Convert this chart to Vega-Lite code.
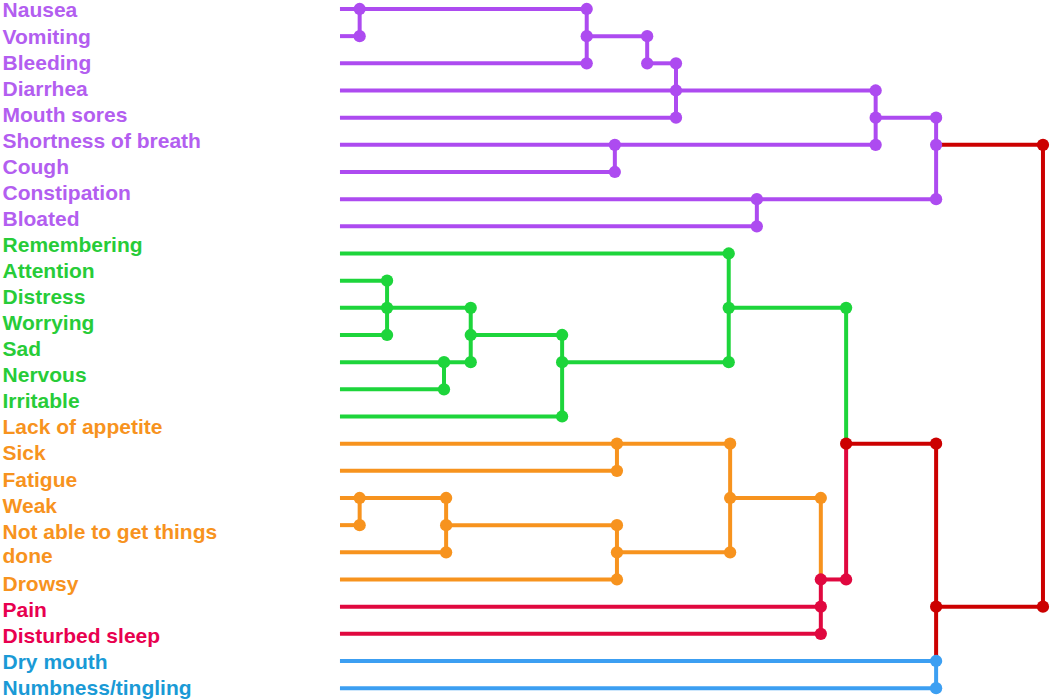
{
  "$schema": "https://vega.github.io/schema/vega-lite/v6.json",
  "width": 1050,
  "height": 699,
  "autosize": {"type": "fit", "contains": "padding"},
  "padding": 0,
  "background": "white",
  "config": {"view": {"stroke": null}},
  "datasets": {
    "segs": [
      {"x1": 0, "x2": 35.1, "y1": 0, "y2": 0, "c": "P"},
      {"x1": 0, "x2": 2.8, "y1": 1, "y2": 1, "c": "P"},
      {"x1": 2.8, "x2": 2.8, "y1": 0, "y2": 1, "c": "P"},
      {"x1": 0, "x2": 35.1, "y1": 2, "y2": 2, "c": "P"},
      {"x1": 35.1, "x2": 35.1, "y1": 0, "y2": 2, "c": "P"},
      {"x1": 35.1, "x2": 43.7, "y1": 1, "y2": 1, "c": "P"},
      {"x1": 43.7, "x2": 43.7, "y1": 1, "y2": 2, "c": "P"},
      {"x1": 43.7, "x2": 47.8, "y1": 2, "y2": 2, "c": "P"},
      {"x1": 47.8, "x2": 47.8, "y1": 2, "y2": 4, "c": "P"},
      {"x1": 0, "x2": 76.2, "y1": 3, "y2": 3, "c": "P"},
      {"x1": 0, "x2": 47.8, "y1": 4, "y2": 4, "c": "P"},
      {"x1": 0, "x2": 76.2, "y1": 5, "y2": 5, "c": "P"},
      {"x1": 0, "x2": 39.1, "y1": 6, "y2": 6, "c": "P"},
      {"x1": 39.1, "x2": 39.1, "y1": 5, "y2": 6, "c": "P"},
      {"x1": 76.2, "x2": 76.2, "y1": 3, "y2": 5, "c": "P"},
      {"x1": 76.2, "x2": 84.8, "y1": 4, "y2": 4, "c": "P"},
      {"x1": 84.8, "x2": 84.8, "y1": 4, "y2": 7, "c": "P"},
      {"x1": 0, "x2": 84.8, "y1": 7, "y2": 7, "c": "P"},
      {"x1": 0, "x2": 59.3, "y1": 8, "y2": 8, "c": "P"},
      {"x1": 59.3, "x2": 59.3, "y1": 7, "y2": 8, "c": "P"},
      {"x1": 84.8, "x2": 100, "y1": 5, "y2": 5, "c": "R"},
      {"x1": 100, "x2": 100, "y1": 5, "y2": 22, "c": "R"},
      {"x1": 84.8, "x2": 100, "y1": 22, "y2": 22, "c": "R"},
      {"x1": 0, "x2": 55.3, "y1": 9, "y2": 9, "c": "G"},
      {"x1": 55.3, "x2": 55.3, "y1": 9, "y2": 13, "c": "G"},
      {"x1": 55.3, "x2": 72.0, "y1": 11, "y2": 11, "c": "G"},
      {"x1": 72.0, "x2": 72.0, "y1": 11, "y2": 16, "c": "G"},
      {"x1": 0, "x2": 6.7, "y1": 10, "y2": 10, "c": "G"},
      {"x1": 6.7, "x2": 6.7, "y1": 10, "y2": 12, "c": "G"},
      {"x1": 0, "x2": 18.6, "y1": 11, "y2": 11, "c": "G"},
      {"x1": 0, "x2": 6.7, "y1": 12, "y2": 12, "c": "G"},
      {"x1": 18.6, "x2": 18.6, "y1": 11, "y2": 13, "c": "G"},
      {"x1": 18.6, "x2": 31.6, "y1": 12, "y2": 12, "c": "G"},
      {"x1": 0, "x2": 18.6, "y1": 13, "y2": 13, "c": "G"},
      {"x1": 0, "x2": 14.8, "y1": 14, "y2": 14, "c": "G"},
      {"x1": 14.8, "x2": 14.8, "y1": 13, "y2": 14, "c": "G"},
      {"x1": 31.6, "x2": 31.6, "y1": 12, "y2": 15, "c": "G"},
      {"x1": 31.6, "x2": 55.3, "y1": 13, "y2": 13, "c": "G"},
      {"x1": 0, "x2": 31.6, "y1": 15, "y2": 15, "c": "G"},
      {"x1": 0, "x2": 55.5, "y1": 16, "y2": 16, "c": "O"},
      {"x1": 0, "x2": 39.4, "y1": 17, "y2": 17, "c": "O"},
      {"x1": 39.4, "x2": 39.4, "y1": 16, "y2": 17, "c": "O"},
      {"x1": 0, "x2": 15.1, "y1": 18, "y2": 18, "c": "O"},
      {"x1": 0, "x2": 2.8, "y1": 19, "y2": 19, "c": "O"},
      {"x1": 2.8, "x2": 2.8, "y1": 18, "y2": 19, "c": "O"},
      {"x1": 0, "x2": 15.1, "y1": 20, "y2": 20, "c": "O"},
      {"x1": 15.1, "x2": 15.1, "y1": 18, "y2": 20, "c": "O"},
      {"x1": 15.1, "x2": 39.4, "y1": 19, "y2": 19, "c": "O"},
      {"x1": 0, "x2": 39.4, "y1": 21, "y2": 21, "c": "O"},
      {"x1": 39.4, "x2": 39.4, "y1": 19, "y2": 21, "c": "O"},
      {"x1": 39.4, "x2": 55.5, "y1": 20, "y2": 20, "c": "O"},
      {"x1": 55.5, "x2": 55.5, "y1": 16, "y2": 20, "c": "O"},
      {"x1": 55.5, "x2": 68.4, "y1": 18, "y2": 18, "c": "O"},
      {"x1": 68.4, "x2": 68.4, "y1": 18, "y2": 21, "c": "O"},
      {"x1": 0, "x2": 68.4, "y1": 22, "y2": 22, "c": "C"},
      {"x1": 0, "x2": 68.4, "y1": 23, "y2": 23, "c": "C"},
      {"x1": 68.4, "x2": 68.4, "y1": 21, "y2": 23, "c": "C"},
      {"x1": 68.4, "x2": 72.0, "y1": 21, "y2": 21, "c": "C"},
      {"x1": 72.0, "x2": 72.0, "y1": 16, "y2": 21, "c": "C"},
      {"x1": 72.0, "x2": 84.8, "y1": 16, "y2": 16, "c": "R"},
      {"x1": 84.8, "x2": 84.8, "y1": 16, "y2": 24, "c": "R"},
      {"x1": 0, "x2": 84.8, "y1": 24, "y2": 24, "c": "B"},
      {"x1": 0, "x2": 84.8, "y1": 25, "y2": 25, "c": "B"},
      {"x1": 84.8, "x2": 84.8, "y1": 24, "y2": 25, "c": "B"}
    ],
    "dots": [
      {"x": 2.8, "y": 0, "c": "P"}, {"x": 2.8, "y": 1, "c": "P"},
      {"x": 35.1, "y": 0, "c": "P"}, {"x": 35.1, "y": 1, "c": "P"}, {"x": 35.1, "y": 2, "c": "P"},
      {"x": 43.7, "y": 1, "c": "P"}, {"x": 43.7, "y": 2, "c": "P"},
      {"x": 47.8, "y": 2, "c": "P"}, {"x": 47.8, "y": 3, "c": "P"}, {"x": 47.8, "y": 4, "c": "P"},
      {"x": 39.1, "y": 5, "c": "P"}, {"x": 39.1, "y": 6, "c": "P"},
      {"x": 76.2, "y": 3, "c": "P"}, {"x": 76.2, "y": 4, "c": "P"}, {"x": 76.2, "y": 5, "c": "P"},
      {"x": 84.8, "y": 4, "c": "P"}, {"x": 84.8, "y": 5, "c": "P"}, {"x": 84.8, "y": 7, "c": "P"},
      {"x": 59.3, "y": 7, "c": "P"}, {"x": 59.3, "y": 8, "c": "P"},
      {"x": 100, "y": 5, "c": "R"}, {"x": 100, "y": 22, "c": "R"},
      {"x": 55.3, "y": 9, "c": "G"}, {"x": 55.3, "y": 11, "c": "G"}, {"x": 55.3, "y": 13, "c": "G"},
      {"x": 72.0, "y": 11, "c": "G"},
      {"x": 6.7, "y": 10, "c": "G"}, {"x": 6.7, "y": 11, "c": "G"}, {"x": 6.7, "y": 12, "c": "G"},
      {"x": 18.6, "y": 11, "c": "G"}, {"x": 18.6, "y": 12, "c": "G"}, {"x": 18.6, "y": 13, "c": "G"},
      {"x": 14.8, "y": 13, "c": "G"}, {"x": 14.8, "y": 14, "c": "G"},
      {"x": 31.6, "y": 12, "c": "G"}, {"x": 31.6, "y": 13, "c": "G"}, {"x": 31.6, "y": 15, "c": "G"},
      {"x": 39.4, "y": 16, "c": "O"}, {"x": 39.4, "y": 17, "c": "O"},
      {"x": 2.8, "y": 18, "c": "O"}, {"x": 2.8, "y": 19, "c": "O"},
      {"x": 15.1, "y": 18, "c": "O"}, {"x": 15.1, "y": 19, "c": "O"}, {"x": 15.1, "y": 20, "c": "O"},
      {"x": 39.4, "y": 19, "c": "O"}, {"x": 39.4, "y": 20, "c": "O"}, {"x": 39.4, "y": 21, "c": "O"},
      {"x": 55.5, "y": 16, "c": "O"}, {"x": 55.5, "y": 18, "c": "O"}, {"x": 55.5, "y": 20, "c": "O"},
      {"x": 68.4, "y": 18, "c": "O"},
      {"x": 68.4, "y": 21, "c": "C"}, {"x": 68.4, "y": 22, "c": "C"}, {"x": 68.4, "y": 23, "c": "C"},
      {"x": 72.0, "y": 21, "c": "C"},
      {"x": 72.0, "y": 16, "c": "R"}, {"x": 84.8, "y": 16, "c": "R"}, {"x": 84.8, "y": 22, "c": "R"},
      {"x": 84.8, "y": 24, "c": "B"}, {"x": 84.8, "y": 25, "c": "B"}
    ],
    "labels": [
      {"label": "Nausea", "row": 0, "c": "P"},
      {"label": "Vomiting", "row": 1, "c": "P"},
      {"label": "Bleeding", "row": 2, "c": "P"},
      {"label": "Diarrhea", "row": 3, "c": "P"},
      {"label": "Mouth sores", "row": 4, "c": "P"},
      {"label": "Shortness of breath", "row": 5, "c": "P"},
      {"label": "Cough", "row": 6, "c": "P"},
      {"label": "Constipation", "row": 7, "c": "P"},
      {"label": "Bloated", "row": 8, "c": "P"},
      {"label": "Remembering", "row": 9, "c": "G"},
      {"label": "Attention", "row": 10, "c": "G"},
      {"label": "Distress", "row": 11, "c": "G"},
      {"label": "Worrying", "row": 12, "c": "G"},
      {"label": "Sad", "row": 13, "c": "G"},
      {"label": "Nervous", "row": 14, "c": "G"},
      {"label": "Irritable", "row": 15, "c": "G"},
      {"label": "Lack of appetite", "row": 16, "c": "O"},
      {"label": "Sick", "row": 17, "c": "O"},
      {"label": "Fatigue", "row": 18, "c": "O"},
      {"label": "Weak", "row": 19, "c": "O"},
      {"label": "Not able to get things\ndone", "row": 20, "c": "O"},
      {"label": "Drowsy", "row": 22, "c": "O"},
      {"label": "Pain", "row": 23, "c": "C"},
      {"label": "Disturbed sleep", "row": 24, "c": "C"},
      {"label": "Dry mouth", "row": 25, "c": "B"},
      {"label": "Numbness/tingling", "row": 26, "c": "B"}
    ]
  },
  "layer": [
    {
      "data": {"name": "segs"},
      "mark": {"type": "rule", "strokeWidth": 4, "strokeCap": "butt"},
      "encoding": {
        "x": {"field": "x1", "type": "quantitative", "scale": {"domain": [-48.36, 101.0], "nice": false, "zero": false}, "axis": null},
        "x2": {"field": "x2"},
        "y": {"field": "y1", "type": "quantitative", "scale": {"domain": [-0.33, 25.4], "reverse": true, "nice": false, "zero": false}, "axis": null},
        "y2": {"field": "y2"},
        "color": {"field": "c", "type": "nominal", "scale": {"domain": ["P", "G", "O", "C", "R", "B"], "range": ["#ad4bf0", "#1dd53b", "#f7931e", "#e0083f", "#cc0000", "#3c9ff2"]}, "legend": null}
      }
    },
    {
      "data": {"name": "dots"},
      "mark": {"type": "circle", "size": 150, "opacity": 1},
      "encoding": {
        "x": {"field": "x", "type": "quantitative"},
        "y": {"field": "y", "type": "quantitative", "scale": {"domain": [-0.33, 25.4], "reverse": true, "nice": false, "zero": false}, "axis": null},
        "color": {"field": "c", "type": "nominal", "scale": {"domain": ["P", "G", "O", "C", "R", "B"], "range": ["#ad4bf0", "#1dd53b", "#f7931e", "#e0083f", "#cc0000", "#3c9ff2"]}, "legend": null}
      }
    },
    {
      "data": {"name": "labels"},
      "mark": {"type": "text", "align": "left", "baseline": "middle", "font": "Liberation Sans", "fontWeight": "bold", "fontSize": 21, "lineBreak": "\n", "lineHeight": 24},
      "encoding": {
        "x": {"datum": -48.0, "type": "quantitative"},
        "y": {"field": "row", "type": "quantitative", "scale": {"domain": [-0.441, 26.384], "reverse": true, "nice": false, "zero": false}, "axis": null},
        "text": {"field": "label"},
        "color": {"field": "c", "type": "nominal", "scale": {"domain": ["P", "G", "O", "C", "R", "B"], "range": ["#b35ef0", "#27cc38", "#f7931e", "#e8004f", "#cc0000", "#1a9ad6"]}, "legend": null}
      }
    }
  ],
  "resolve": {"scale": {"y": "independent", "color": "independent"}}
}
